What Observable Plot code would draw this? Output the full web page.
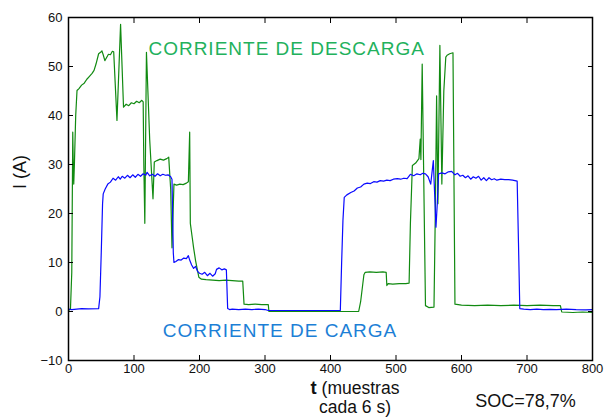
<!DOCTYPE html>
<html>
<head>
<meta charset="utf-8">
<script src="https://cdn.jsdelivr.net/npm/d3@7"></script>
<script src="https://cdn.jsdelivr.net/npm/@observablehq/plot@0.6"></script>
<style>
  html, body { margin: 0; padding: 0; background: #fff; }
  #chart { width: 606px; height: 417px; }
</style>
</head>
<body>
<div id="chart"></div>
<script>
// Sample index (t) and current (A) for the charge series (blue)
const cargaT = [0,5,20,30,46,48,50,52,53,56,60,64,68,72,76,79,82,86,90,94,98,102,106,110,114,118,120,124,128,132,136,140,144,148,152,156,158,160,161,164,168,172,176,180,183,185,188,191,194,197,200,204,208,212,216,220,224,226,230,234,238,241,243,246,250,260,270,280,290,300,305,415,417,419,421,425,431,436,441,446,451,456,461,466,471,476,481,486,491,496,502,507,512,517,522,527,532,537,541,545,549,553,557,559,561,563,565,570,575,580,585,590,594,598,602,606,610,614,618,622,626,630,634,638,642,646,650,654,660,666,672,678,685,687,689,695,705,715,725,735,745,760,775,790,800];
const cargaI = [0.5,0.4,0.6,0.55,0.6,3,12,22,24,25,26,26.4,27.2,26.8,27.5,27.0,27.6,27.2,27.8,27.3,27.9,27.4,28.0,27.6,28.1,27.8,28.4,27.7,28.0,27.6,28.1,27.7,28.0,27.8,27.9,27.5,27.0,12,10,10.2,10.6,10.5,10.9,10.8,11.4,10.5,9.5,8.8,9.2,8.2,7.8,7.6,8.0,7.3,7.8,7.2,7.7,8.6,8.9,8.5,8.7,8.5,0.6,0.4,0.5,0.4,0.5,0.4,0.5,0.4,0.2,0.2,10,18.6,23.3,23.8,24.3,24.6,25.2,25.4,26.0,26.2,26.1,26.5,26.4,26.7,26.6,26.8,26.7,27.0,27.1,27.0,27.2,27.1,28.0,27.7,28.1,27.9,28.2,28.1,27.5,26.0,30.8,24,17.2,22,28.1,28.3,28.1,28.5,28.6,27.9,28.2,27.6,27.8,27.3,27.7,27.0,27.5,27.2,27.6,26.8,27.3,26.7,27.3,26.9,27.1,26.8,27.0,26.9,26.9,26.8,26.6,14,0.6,0.5,0.4,0.5,0.4,0.45,0.4,0.5,0.4,0.35,0.4];

// Sample index (t) and current (A) for the discharge series (green)
const descargaT = [0,3,5,6.5,7.5,8,9,11,13,16,20,24,28,32,36,39,42,46,49,51,53,55.5,58,61,64,67,69,74,79.5,84,88,92,96,100,104,108,112,114,115,116.5,119,124,129,131,135,140,145,150,153,156,158,161,165,170,175,180,183,185,186,189,191,194,196,199,203,210,220,230,240,250,260,266,268,275,285,295,305,306,350,415,443,446,451,453,460,470,480,485,486,488,495,505,515,520,522,525,530,535,537,538,540,545,550,558,560,562,564,567,570,573,576,578,582,587,590,600,620,640,660,680,700,720,740,751,753,770,785,800];
const descargaI = [0.2,0.5,8,36.6,28,26,30,40,45.1,45.5,46.2,46.6,47.4,48.0,48.6,49.2,50.5,52.6,52.9,53.2,52.4,51.2,51.8,52.5,52.4,53.1,53.0,39,58.6,41.7,42.3,42.0,42.6,42.4,42.9,42.6,43.1,42.8,30,18,52.9,35,23,30.5,30.8,31.1,30.9,31.2,31.5,25,13,26,25.8,26.0,25.9,26.2,26.5,36.6,18,15,13,10.4,9,7,6.6,6.5,6.4,6.3,6.4,6.3,6.2,6.2,1.5,1.4,1.5,1.4,1.4,0,0,0,0,2,7.5,8.0,8.1,8.0,8.1,8.0,5.3,5.7,5.6,5.7,5.7,5.8,18,29.8,30.3,31.2,35.2,31,50.5,1.2,0.8,0.9,20,44,22,54.3,26,45,51.9,52.3,52.6,52.8,1.5,1.3,1.2,1.3,1.2,1.3,1.2,1.3,1.2,1.2,-0.1,-0.2,-0.1,-0.2];

const xTicks = [0,100,200,300,400,500,600,700,800];
const yTicks = [-10,0,10,20,30,40,50,60];
const labelDescarga = "CORRIENTE DE DESCARGA";
const labelCarga = "CORRIENTE DE CARGA";
const yLabel = "I (A)";
const xLabel1 = "(muestras";
const xLabel2 = "cada 6 s)";
const socText = "SOC=78,7%";

const carga = cargaT.map((t, i) => ({t, I: cargaI[i]}));
const descarga = descargaT.map((t, i) => ({t, I: descargaI[i]}));

const chart = Plot.plot({
  width: 606,
  height: 417,
  marginLeft: 68,
  marginRight: 14,
  marginTop: 17,
  marginBottom: 57,
  style: {fontFamily: "'Liberation Sans', Arial, sans-serif", fontSize: "13px", background: "#fff", overflow: "visible"},
  x: {domain: [0, 800]},
  y: {domain: [-10, 60]},
  marks: [
    Plot.line(descarga, {x: "t", y: "I", stroke: "#118a11", strokeWidth: 1.2}),
    Plot.line(carga, {x: "t", y: "I", stroke: "#0a0aff", strokeWidth: 1.2}),
    Plot.axisX({anchor: "bottom", ticks: xTicks, tickSize: -5, tickPadding: 8, label: null, fontSize: 13, fill: "#111"}),
    Plot.axisX({anchor: "top", ticks: xTicks, tickSize: -5, tickFormat: () => "", label: null}),
    Plot.axisY({anchor: "left", ticks: yTicks, tickSize: -5, tickPadding: 11, label: null, fontSize: 13, fill: "#111"}),
    Plot.axisY({anchor: "right", ticks: yTicks, tickSize: -5, tickFormat: () => "", label: null}),
    Plot.frame({stroke: "#000", strokeWidth: 1.5}),
    Plot.text([labelDescarga], {x: 122, y: 53.5, text: d => d, textAnchor: "start", fill: "#22b15c", fontSize: 19, className: "lbl-spaced"}),
    Plot.text([labelCarga], {x: 144, y: -3.9, text: d => d, textAnchor: "start", fill: "#1c7fd6", fontSize: 19, className: "lbl-spaced"}),
    Plot.text([yLabel], {frameAnchor: "left", text: d => d, rotate: -90, dx: -48, fontSize: 18, fill: "#111"}),
    Plot.text([socText], {frameAnchor: "bottom-right", text: d => d, textAnchor: "middle", dx: -67, dy: 46, fontSize: 18, fill: "#111"})
  ]
});

const svg = d3.select(chart);
// slightly wider lettering for the two series annotations
svg.selectAll("g.lbl-spaced text").attr("letter-spacing", "1px");

// x-axis label with bold "t", two lines
const lbl = svg.append("text")
  .attr("x", 355).attr("y", 393.5)
  .attr("text-anchor", "middle")
  .attr("font-size", 17.5)
  .attr("fill", "#111");
lbl.append("tspan").attr("font-weight", "bold").attr("font-size", 18.5).text("t");
lbl.append("tspan").text(" " + xLabel1);
svg.append("text")
  .attr("x", 355).attr("y", 413)
  .attr("text-anchor", "middle")
  .attr("font-size", 17.5)
  .attr("fill", "#111")
  .text(xLabel2);

document.getElementById("chart").appendChild(chart);
</script>
</body>
</html>
